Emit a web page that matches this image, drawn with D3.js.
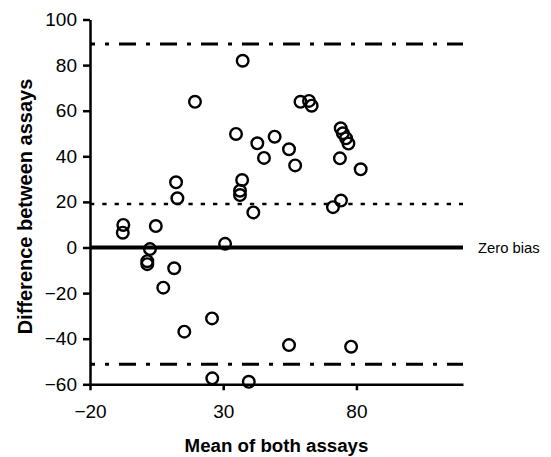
<!DOCTYPE html>
<html>
<head>
<meta charset="utf-8">
<script src="https://cdn.jsdelivr.net/npm/d3@7"></script>
<style>
  body { margin: 0; background: #fff; }
  svg { display: block; font-family: "Liberation Sans", Arial, sans-serif; }
</style>
</head>
<body>
<svg id="chart" width="551" height="457"></svg>
<script>
// Mean of both assays (x) and difference between assays (y)
const meanValues = [-7.5, -7.7, 4.7, 2.5, 1.5, 1.5, 11.6, 7.5, 12.3, 12.8,
  15.4, 25.8, 25.9, 39.6, 19.4, 30.7, 34.8, 37.3, 37.1, 36.3,
  36.3, 41.3, 42.8, 45.3, 49.3, 54.7, 57.0, 59.0, 62.2, 63.2,
  54.7, 71.2, 74.2, 73.8, 74.1, 74.9, 76.1, 77.0, 81.6, 78.0];
const diffValues = [9.9, 6.5, 9.4, -0.7, -6.0, -7.3, -9.1, -17.6, 28.6, 21.6,
  -36.9, -31.1, -57.4, -58.9, 63.9, 1.6, 49.8, 81.9, 29.6, 24.9,
  23.0, 15.4, 45.7, 39.3, 48.6, 43.1, 36.0, 63.9, 64.3, 62.2,
  -42.8, 17.7, 20.6, 39.1, 52.3, 50.1, 47.9, 45.6, 34.3, -43.5];

// Reference lines
const meanBias = 19.1;
const upperLimit = 89.3;
const lowerLimit = -51.2;
const zeroBias = 0;

const xTicks = [-20, 30, 80];
const yTicks = [-60, -40, -20, 0, 20, 40, 60, 80, 100];

const points = meanValues.map((m, i) => ({ mean: m, diff: diffValues[i] }));

// Plot box
const plot = {
  left: 90,
  right: 463,
  top: 19.5,
  bottom: 384.3,
};

const svg = d3.select('#chart');

const x = d3.scaleLinear().domain([-20, 120]).range([plot.left, plot.right]);
const y = d3.scaleLinear().domain([-60, 100]).range([plot.bottom, plot.top]);

// Reference lines
const refLines = [
  { value: upperLimit, width: 3, dash: '17,10,4,10', offset: 12 },
  { value: lowerLimit, width: 3, dash: '17,10,4,10', offset: 12 },
  { value: meanBias, width: 2.6, dash: '4.3,8', offset: 0 },
  { value: zeroBias, width: 4, dash: null, offset: 0 },
];

svg.append('g')
  .selectAll('line')
  .data(refLines)
  .join('line')
  .attr('x1', x(-20))
  .attr('x2', x(120))
  .attr('y1', (d) => y(d.value))
  .attr('y2', (d) => y(d.value))
  .attr('stroke', '#000')
  .attr('stroke-width', (d) => d.width)
  .attr('stroke-dasharray', (d) => d.dash)
  .attr('stroke-dashoffset', (d) => d.offset);

svg.append('text')
  .attr('x', x(120) + 15)
  .attr('y', y(zeroBias))
  .attr('dy', '0.35em')
  .attr('font-size', '14.8px')
  .attr('fill', '#000')
  .text('Zero bias');

// Axes
const xAxis = svg.append('g')
  .attr('transform', `translate(0,${plot.bottom})`)
  .call(d3.axisBottom(x).tickValues(xTicks).tickSize(6).tickSizeOuter(0).tickPadding(14.5));

const yAxis = svg.append('g')
  .attr('transform', `translate(${plot.left},0)`)
  .call(d3.axisLeft(y).tickValues(yTicks).tickSize(7).tickSizeOuter(0).tickPadding(6));

[xAxis, yAxis].forEach((axis) => {
  axis.select('.domain').attr('stroke', '#000').attr('stroke-width', 2.5);
  axis.selectAll('.tick line').attr('stroke', '#000').attr('stroke-width', 2.5);
  axis.selectAll('.tick text')
    .attr('fill', '#000')
    .attr('font-size', '19px')
    .attr('font-family', '"Liberation Sans", Arial, sans-serif');
});

// Points
svg.append('g')
  .selectAll('circle')
  .data(points)
  .join('circle')
  .attr('cx', (d) => x(d.mean))
  .attr('cy', (d) => y(d.diff))
  .attr('r', 5.8)
  .attr('fill', 'none')
  .attr('stroke', '#000')
  .attr('stroke-width', 2.4);

// Axis titles
svg.append('text')
  .attr('x', (plot.left + plot.right) / 2)
  .attr('y', 451.5)
  .attr('text-anchor', 'middle')
  .attr('font-size', '18.7px')
  .attr('font-weight', 'bold')
  .text('Mean of both assays');

svg.append('text')
  .attr('transform', `translate(32,206.5) rotate(-90)`)
  .attr('text-anchor', 'middle')
  .attr('font-size', '20px')
  .attr('font-weight', 'bold')
  .text('Difference between assays');
</script>
</body>
</html>
